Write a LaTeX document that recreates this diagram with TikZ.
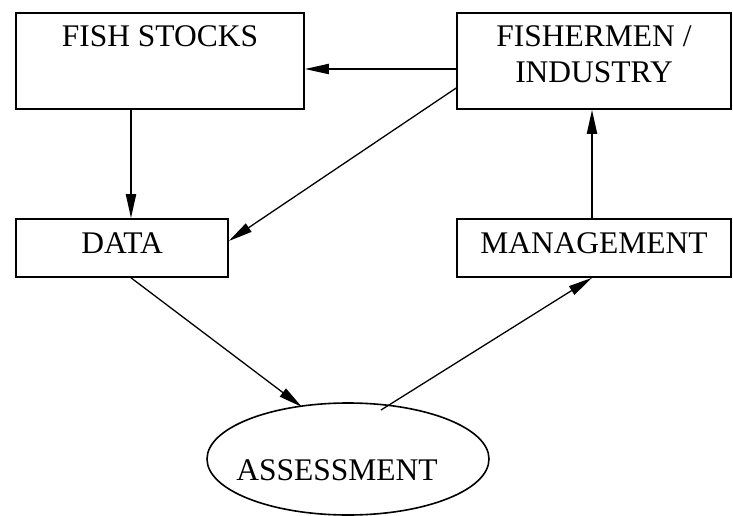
\documentclass[tikz,border=0pt]{standalone}
\usepackage{fontspec}
\setmainfont{Liberation Serif}
\usetikzlibrary{arrows.meta,shapes.geometric}
\begin{document}
\begin{tikzpicture}[x=1pt,y=-1pt,
  box/.style={draw,line width=1.6pt,rectangle,inner sep=0pt,font=\fontsize{31.5}{36}\selectfont},
  arr/.style={line width=2pt,-{Triangle[length=24pt,width=10pt]}},
  thinarr/.style={line width=1.3pt,-{Triangle[length=24pt,width=10pt]}}]
\useasboundingbox (0,0) rectangle (733,516);
\node[box,minimum width=288pt,text height=34pt,text depth=62pt] (fish) at (160,61) {FISH STOCKS};
\node[box,minimum width=274pt,align=center,text height=70pt,text depth=26pt] (fisher) at (594,61) {FISHERMEN /\\INDUSTRY};
\node[box,minimum width=212pt,text height=34pt,text depth=24pt] (data) at (122,248) {DATA};
\node[box,minimum width=274pt,text height=34pt,text depth=24pt] (mgmt) at (594,248) {MANAGEMENT};
\node[draw,line width=1.6pt,ellipse,minimum width=282pt,minimum height=112pt,inner sep=0pt] (assess) at (348,459) {};
\node[font=\fontsize{31.5}{36}\selectfont,anchor=base,inner sep=0pt] (assesstext) at (337,480) {ASSESSMENT};
\draw[arr] ([yshift=-8pt]fisher.west) -- ([yshift=-8pt]fish.east);
\draw[thinarr] ([yshift=-27pt]fisher.west) -- ([yshift=7pt]data.east);
\draw[arr] ([xshift=-29pt]fish.south) -- ([xshift=9pt]data.north);
\draw[arr] ([xshift=-2pt]mgmt.north) -- ([xshift=-2pt]fisher.south);
\draw[thinarr] ([xshift=9pt]data.south) -- ([xshift=-46pt,yshift=52pt]assess.center);
\draw[thinarr] ([xshift=33pt,yshift=49pt]assess.center) -- ([xshift=-2pt]mgmt.south);
\end{tikzpicture}
\end{document}
